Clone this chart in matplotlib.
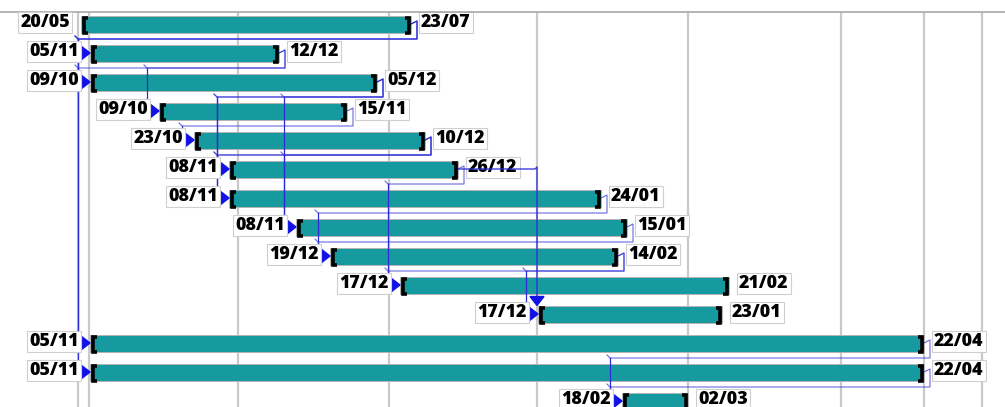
import numpy as np
import matplotlib.pyplot as plt
from matplotlib.patches import Polygon

# task rows, top to bottom (x values, in screen units)
starts = [81, 90, 90, 159, 194, 229, 229, 296, 330, 400, 538, 90, 90, 622]
ends = [411, 279, 377, 347, 425, 458, 601, 627, 618, 729, 722, 924, 924, 688]
start_labels = ['20/05', '05/11', '09/10', '09/10', '23/10', '08/11', '08/11',
                '08/11', '19/12', '17/12', '17/12', '05/11', '05/11', '18/02']
end_labels = ['23/07', '12/12', '05/12', '15/11', '10/12', '26/12', '24/01',
              '15/01', '14/02', '21/02', '23/01', '22/04', '22/04', '02/03']
# (predecessor, successor)
links = [(0, 1), (1, 2), (0, 11), (0, 12), (1, 3), (3, 4), (2, 5), (2, 6),
         (4, 5), (4, 6), (2, 7), (4, 7), (5, 10), (5, 9), (6, 8), (7, 8),
         (8, 9), (8, 10), (11, 13), (12, 13)]
grid_x = [78, 89, 238, 389, 537, 688, 841, 924, 982]

BAR_COLOR = '#169a9f'
LINK_COLOR = '#2a2ad6'
ARROW_COLOR = '#1111e8'
PX = 1 / 29.0          # one pixel in row units
BAR_H = 17 * PX

plt.rcParams['font.family'] = ['Open Sans', 'DejaVu Sans']

fig = plt.figure(figsize=(10.05, 4.07), dpi=100)
ax = fig.add_axes([0, 0, 1, (407 - 11.5) / 407])
ax.set_xlim(0, 1005)
ax.set_ylim((407 - 24) / 29.0, (11.5 - 24) / 29.0)

rows = np.arange(len(starts))
starts = np.array(starts)
ends = np.array(ends)

# background grid
ax.set_xticks(grid_x)
ax.set_yticks([])
ax.tick_params(length=0, labelbottom=False)
ax.grid(axis='x', color='#c9c9c9', lw=1.6)
ax.set_axisbelow(True)
for s in ['left', 'right', 'bottom']:
    ax.spines[s].set_visible(False)
ax.spines['top'].set_color('#a8a8a8')
ax.spines['top'].set_linewidth(1.2)

# links
for p, q in links:
    yp, yq = rows[p], rows[q]
    if starts[q] - 12 > ends[p] + 6:
        # straight over then down into the top of the bar
        xc = starts[q] - 1
        ytop = yq - BAR_H / 2
        ax.plot([ends[p], xc - 2, xc, xc], [yp, yp, yp - 2 * PX, ytop - 8 * PX],
                color=LINK_COLOR, lw=0.9, zorder=3)
        ax.add_patch(Polygon([(xc - 7, ytop - 9 * PX), (xc + 7, ytop - 9 * PX), (xc, ytop)],
                             closed=True, color=ARROW_COLOR, zorder=4))
        continue
    xc = starts[q] - 12
    yr = yp + 15 * PX
    ax.plot([ends[p], ends[p] + 6, ends[p] + 6, xc, xc - 3],
            [yp, yp - 3 * PX, yr, yr, yr - 3 * PX],
            color=LINK_COLOR, lw=0.8, alpha=0.7, zorder=3)
    ax.plot([xc, xc, starts[q] - 8], [yr, yq, yq], color=LINK_COLOR, lw=0.9, zorder=3)

# arrows into bars
for q in sorted(set(q for p, q in links)):
    s, y = starts[q], rows[q]
    ax.add_patch(Polygon([(s - 9, y - 7 * PX), (s - 9, y + 7 * PX), (s, y)],
                         closed=True, color=ARROW_COLOR, zorder=4))

# bars
ax.barh(rows, ends - starts, left=starts, height=BAR_H, color=BAR_COLOR,
        edgecolor='#b5b5b5', lw=0.7, zorder=2)

# brackets at bar ends
for s, e, y in zip(starts, ends, rows):
    t, b = y - 6.5 * PX, y + 8.5 * PX
    ax.plot([s + 6.5, s + 2.5, s + 2.5, s + 6.5], [t, t, b, b], color='black', lw=2.6,
            solid_joinstyle='miter', solid_capstyle='butt', zorder=5)
    ax.plot([e - 6.5, e - 2.5, e - 2.5, e - 6.5], [t, t, b, b], color='black', lw=2.6,
            solid_joinstyle='miter', solid_capstyle='butt', zorder=5)

box = dict(boxstyle='square,pad=0.12', fc='white', ec='#cfcfcf', lw=0.8)
for s, e, y, a, b in zip(starts, ends, rows, start_labels, end_labels):
    ax.text(s - 11, y - 1.5 * PX, a, ha='right', va='center', fontsize=12.8,
            fontweight='heavy', bbox=box, zorder=6)
    ax.text(e + 10, y - 1.5 * PX, b, ha='left', va='center', fontsize=12.8,
            fontweight='heavy', bbox=box, zorder=1)

fig.savefig('out.png', dpi=100)
